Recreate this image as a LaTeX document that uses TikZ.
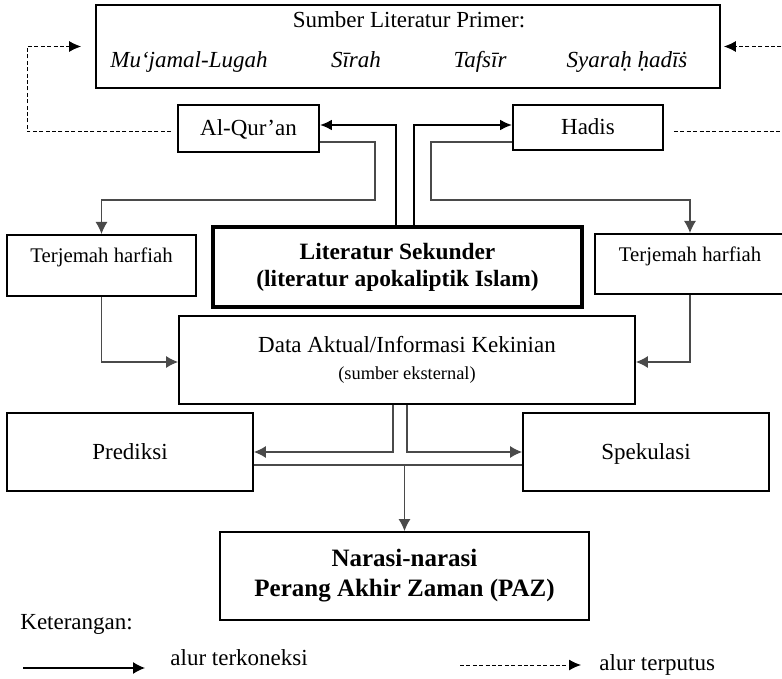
\documentclass[tikz,border=0pt]{standalone}
\usepackage{fontspec}
\setmainfont{Liberation Serif}
\usetikzlibrary{arrows.meta}
\definecolor{flowgrey}{HTML}{4a4a4a}
\newcommand{\basesize}{\fontsize{11.5}{13.8}\selectfont}

\begin{document}
\begin{tikzpicture}[x=0.5pt,y=-0.5pt,
  box/.style={draw, line width=0.9pt, inner sep=0pt, align=center, font=\basesize},
  onebox/.style={box, text height=9pt, text depth=2pt},
  lbl/.style={inner sep=0pt, font=\basesize},
  flow/.style={flowgrey, line width=0.6pt, -{Latex[length=6pt,width=6pt]}},
  thickflow/.style={line width=1.3pt, -{Latex[length=6pt,width=5.5pt]}},
  cutflow/.style={dash pattern=on 2pt off 1.2pt, line width=0.5pt, -{Latex[length=6pt,width=5.5pt]}}]
  \useasboundingbox (0,0) rectangle (782,679);
  \node[box, minimum width=312pt, minimum height=41.5pt] (prim) at (408,46.5) {};
  \node[lbl] (primtitle) at (409,20) {Sumber Literatur Primer:};
  \node[lbl, anchor=base, font=\basesize\itshape] (mujam) at (189,68) {Mu‘jamal-Lugah};
  \node[lbl, anchor=base, font=\basesize\itshape] (sirah) at (356,68) {Sīrah};
  \node[lbl, anchor=base, font=\basesize\itshape] (tafsir) at (480,68) {Tafsīr};
  \node[lbl, anchor=base, font=\basesize\itshape] (syarah) at (627,68) {Syaraḥ ḥadīṡ};
  \node[onebox, minimum width=70.5pt, minimum height=23.5pt] (quran) at (248.5,128.5) {Al-Qur’an};
  \node[onebox, minimum width=75pt, minimum height=22.5pt] (hadis) at (588,127.5) {Hadis};
  \node[box, anchor=north, minimum width=94.5pt, text height=14pt, text depth=16.5pt,
    font=\fontsize{10.4}{12.5}\selectfont] (terjL) at (101.5,234) {Terjemah harfiah};
  \node[box, anchor=north, minimum width=95pt, text height=14pt, text depth=16pt,
    font=\fontsize{10.4}{12.5}\selectfont] (terjR) at (690,233) {Terjemah harfiah};
  \node[box, line width=1.6pt, minimum width=184.5pt, minimum height=40pt,
    font=\bfseries\fontsize{11.7}{13.5}\selectfont] (sek) at (397.5,267)
    {Literatur Sekunder\\(literatur apokaliptik Islam)};
  \node[box, minimum width=228pt, minimum height=44pt] (data) at (407,360)
    {Data Aktual/Informasi Kekinian\\{\fontsize{9.2}{11}\selectfont (sumber eksternal)}};
  \node[onebox, minimum width=123pt, minimum height=39pt] (pred) at (130,452) {Prediksi};
  \node[onebox, minimum width=123pt, minimum height=39pt] (spek) at (646,452) {Spekulasi};
  \node[box, minimum width=184.5pt, minimum height=44pt,
    font=\bfseries\fontsize{12.5}{15}\selectfont] (naras) at (404.5,576)
    {Narasi-narasi\\Perang Akhir Zaman (PAZ)};
  \draw[cutflow, shorten <=3pt, shorten >=7pt] ([yshift=-1.75pt]quran.west) -- ++(-150,0) |- (prim.west);
  \draw[cutflow, shorten <=5pt, shorten >=1.5pt] ([yshift=-2pt]hadis.east) -- ++(130,0) |- (prim.east);
  \draw[thickflow] ([xshift=-0.75pt]sek.north) |- ([yshift=1.75pt]quran.east);
  \draw[thickflow] ([xshift=8.25pt]sek.north) |- ([yshift=1.25pt]hadis.west);
  \draw[flow] ([yshift=-6.75pt]quran.east) -| (375,200) -| (terjL.north);
  \draw[flow] ([yshift=-7.25pt]hadis.west) -| (431,200) -| (terjR.north);
  \draw[flow] (terjL.south) |- ([yshift=-1pt]data.west);
  \draw[flow] (terjR.south) |- ([yshift=-1pt]data.east);
  \draw[flow] ([xshift=-7pt]data.south) |- (pred.east);
  \draw[flow] (data.south) |- (spek.west);
  \path ([yshift=-6.5pt]pred.east) coordinate (junc);
  \draw[flowgrey, line width=0.6pt] (junc) -- (junc -| spek.west);
  \draw[flow] (junc -| naras.north) -- (naras.north);
  \node[lbl, anchor=west] (keter) at (20,624) {Keterangan:};
  \coordinate (solidA) at (23,668);
  \coordinate (solidB) at (145,668);
  \draw[flow, black] (solidA) -- (solidB);
  \node[lbl, anchor=west] (solidlbl) at (170,658) {alur terkoneksi};
  \coordinate (cutA) at (460,665);
  \coordinate (cutB) at (581,665);
  \draw[cutflow] (cutA) -- (cutB);
  \node[lbl, anchor=west] (cutlbl) at (599,665) {alur terputus};
\end{tikzpicture}
\end{document}
